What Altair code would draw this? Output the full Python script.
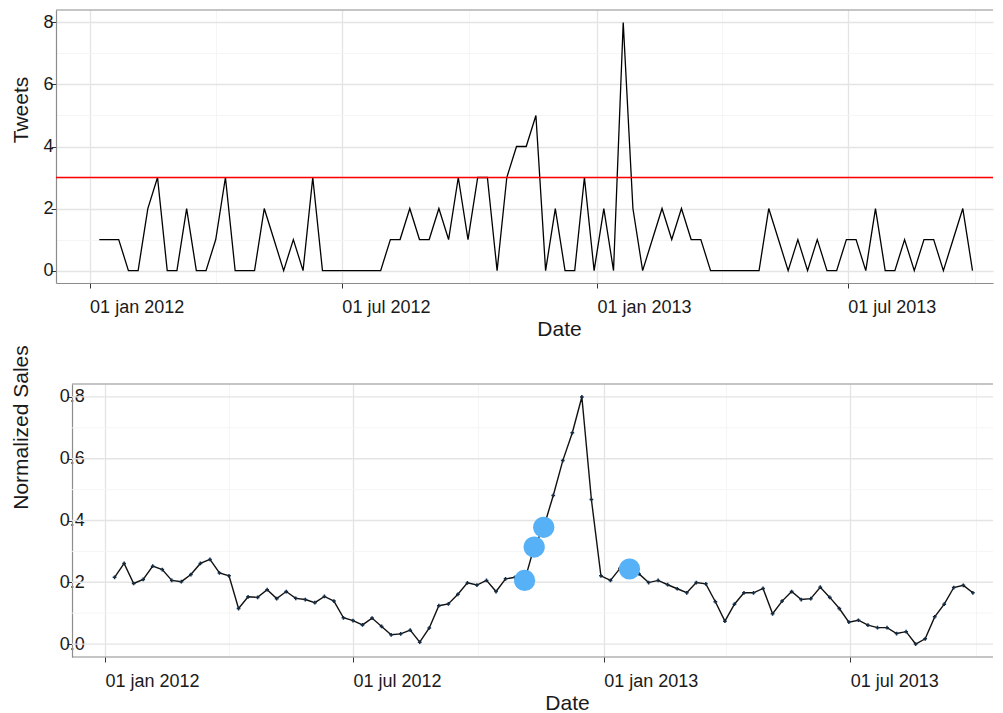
import altair as alt
import pandas as pd

# ---------------- data ----------------
first_week = "2012-01-08"          # weekly observations start here
tweets = [1, 1, 1, 0, 0, 2, 3, 0, 0, 2,
          0, 0, 1, 3, 0, 0, 0, 2, 1, 0,
          1, 0, 3, 0, 0, 0, 0, 0, 0, 0,
          1, 1, 2, 1, 1, 2, 1, 3, 1, 3,
          3, 0, 3, 4, 4, 5, 0, 2, 0, 0,
          3, 0, 2, 0, 8, 2, 0, 1, 2, 1,
          2, 1, 1, 0, 0, 0, 0, 0, 0, 2,
          1, 0, 1, 0, 1, 0, 0, 1, 1, 0,
          2, 0, 0, 1, 0, 1, 1, 0, 1, 2, 0]
sales = [0.216, 0.261, 0.196, 0.209, 0.252, 0.241, 0.206, 0.202, 0.225, 0.261,
         0.274, 0.230, 0.221, 0.115, 0.153, 0.151, 0.176, 0.147, 0.170, 0.148,
         0.144, 0.134, 0.154, 0.139, 0.085, 0.076, 0.062, 0.084, 0.057, 0.030,
         0.033, 0.045, 0.006, 0.052, 0.124, 0.130, 0.161, 0.198, 0.191, 0.206,
         0.170, 0.211, 0.216, 0.206, 0.314, 0.378, 0.481, 0.594, 0.684, 0.800,
         0.468, 0.221, 0.206, 0.245, 0.243, 0.227, 0.199, 0.206, 0.192, 0.179,
         0.166, 0.199, 0.195, 0.137, 0.074, 0.129, 0.166, 0.166, 0.180, 0.098,
         0.139, 0.170, 0.144, 0.147, 0.184, 0.151, 0.115, 0.071, 0.077, 0.061,
         0.053, 0.053, 0.034, 0.040, 0.000, 0.017, 0.088, 0.129, 0.183, 0.190,
         0.166]
threshold = 3
tweet_ticks = [0, 1, 2, 3, 4, 5, 6, 7, 8]
sales_ticks = [0.0, 0.1, 0.2, 0.3, 0.4, 0.5, 0.6, 0.7, 0.8]
date_ticks = [(2012, 1, 1), (2012, 4, 1), (2012, 7, 1), (2012, 10, 1),
              (2013, 1, 1), (2013, 4, 1), (2013, 7, 1), (2013, 10, 1)]

dates = pd.date_range(first_week, periods=len(tweets), freq="7D")
df = pd.DataFrame({"date": dates, "tweets": tweets, "sales": sales})

# ---------------- layout / style ----------------
W = 937
H_TOP, H_BOT = 273, 273
PANEL_START = pd.Timestamp("2011-12-07 18:00")
DOMAIN_END = pd.Timestamp("2013-10-13 19:00")
BOTTOM_START = pd.Timestamp("2011-11-26 00:00")
y_off_bottom = -W * (PANEL_START - BOTTOM_START) / (DOMAIN_END - BOTTOM_START)

FONT = "Liberation Sans"
BORDER = "#8c8c8c"
MAJOR = "#e4e4e4"
MINOR = "#f4f4f4"
TXT = "#1a1a1a"


def dt(ts):
    return alt.DateTime(year=ts.year, month=ts.month, date=ts.day,
                        hours=ts.hour, minutes=ts.minute)


def cond(test, a, b):
    return {"condition": {"test": test, "value": a}, "value": b}


tick_values = [alt.DateTime(year=y, month=m, date=d) for (y, m, d) in date_ticks]
is_major_date = "month(datum.value) % 6 == 0"
date_label = "month(datum.value) % 6 == 0 ? lower(timeFormat(datum.value, '%d %b %Y')) : ''"


def x_axis(title_x, title_y, label_pad, domain):
    return alt.Axis(
        values=tick_values, labelExpr=date_label, labelAlign="left",
        labelBaseline="top", labelPadding=label_pad, labelFontSize=18,
        labelColor=TXT, labelFont=FONT, labelFlush=False, labelOverlap=False,
        tickSize=5, tickColor="#333333", tickWidth=1,
        tickOpacity=cond(is_major_date, 1, 0),
        grid=True, gridColor=cond(is_major_date, MAJOR, MINOR),
        gridWidth=cond(is_major_date, 1.3, 0.9),
        domain=domain, domainColor=BORDER, domainWidth=1.2,
        title="Date", titleX=title_x, titleY=title_y, titleAlign="center",
        titleBaseline="alphabetic", titleFontSize=21, titleFont=FONT,
        titleFontWeight="normal", titleColor=TXT,
    )


# ---------------- top panel : tweets ----------------
xs_top = alt.Scale(domain=[dt(PANEL_START), dt(DOMAIN_END)], nice=False)
ys_top = alt.Scale(domain=[-0.4, 8.4], nice=False, zero=False)
even = "datum.value % 2 == 0"
y_axis_top = alt.Axis(
    values=tweet_ticks, labelExpr=f"{even} ? datum.label : ''",
    labelAlign="right", labelBaseline="middle", labelPadding=-2,
    labelFontSize=18, labelColor=TXT, labelFont=FONT,
    tickSize=5, tickColor="#333333", tickOpacity=cond(even, 1, 0),
    grid=True, gridColor=cond(even, MAJOR, MINOR), gridWidth=cond(even, 1.3, 0.9),
    domainColor=BORDER, domainWidth=1.2,
    title="Tweets", titleAngle=270, titleX=-28.3, titleY=99.5,
    titleAlign="center", titleBaseline="alphabetic", titleFontSize=21,
    titleFont=FONT, titleFontWeight="normal", titleColor=TXT,
)

top_line = alt.Chart(df).mark_line(color="black", strokeWidth=1.3).encode(
    x=alt.X("date:T", scale=xs_top, axis=x_axis(503, 52, 10, True)),
    y=alt.Y("tweets:Q", scale=ys_top, axis=y_axis_top),
)
thr_df = pd.DataFrame({"tweets": [threshold]})
top_thr = alt.Chart(thr_df).mark_rule(color="#ff0000", strokeWidth=1.3).encode(
    y=alt.Y("tweets:Q", scale=ys_top, axis=y_axis_top)
)
top_border = alt.Chart(thr_df).mark_rule(color=BORDER, strokeWidth=1.2).encode(
    y=alt.value(0)
)
top = alt.layer(top_line, top_thr, top_border).properties(width=W, height=H_TOP)

# ---------------- bottom panel : sales ----------------
xs_bot = alt.Scale(domain=[dt(BOTTOM_START), dt(DOMAIN_END)], nice=False)
ys_bot = alt.Scale(domain=[-0.042, 0.842], nice=False, zero=False)
major_s = "round(datum.value * 10) % 2 == 0"
y_axis_bot = alt.Axis(
    values=sales_ticks, labelExpr=f"{major_s} ? format(datum.value, '.1f') : ''",
    labelAlign="right", labelBaseline="middle", labelPadding=-17.3,
    labelFontSize=18, labelColor=TXT, labelFont=FONT,
    tickSize=5, tickColor="#333333", tickOpacity=cond(major_s, 1, 0),
    grid=False, offset=y_off_bottom,
    domainColor=BORDER, domainWidth=1.2,
    title="Normalized Sales", titleAngle=270, titleX=-44.3, titleY=43,
    titleAlign="center", titleBaseline="alphabetic", titleFontSize=21,
    titleFont=FONT, titleFontWeight="normal", titleColor=TXT,
)
x_axis_bot = x_axis(511, 52, 10.5, False)

grid_df = pd.DataFrame({
    "sales": sales_ticks,
    "major": [round(v * 10) % 2 == 0 for v in sales_ticks],
    "date": [PANEL_START] * len(sales_ticks),
    "end": [DOMAIN_END] * len(sales_ticks),
})
frame_df = pd.DataFrame({"sales": [-0.042, 0.842], "date": [PANEL_START] * 2,
                         "end": [DOMAIN_END] * 2})


def hrule(data, color, width):
    return alt.Chart(data).mark_rule(color=color, strokeWidth=width).encode(
        x=alt.X("date:T", scale=xs_bot, axis=x_axis_bot), x2="end:T",
        y=alt.Y("sales:Q", scale=ys_bot, axis=y_axis_bot),
    )


grid_minor = hrule(grid_df, MINOR, 0.9).transform_filter("!datum.major")
grid_major = hrule(grid_df, MAJOR, 1.3).transform_filter("datum.major")
frame = hrule(frame_df, BORDER, 1.2)

bot_enc = dict(x=alt.X("date:T", scale=xs_bot, axis=x_axis_bot),
               y=alt.Y("sales:Q", scale=ys_bot, axis=y_axis_bot))
bot_line = alt.Chart(df).mark_line(color="#111111", strokeWidth=1.4).encode(**bot_enc)
bot_pts = alt.Chart(df).mark_point(shape="cross", filled=True, size=14,
                                   color="#132B43", opacity=1).encode(**bot_enc)
bot_hi = alt.Chart(df).mark_circle(size=450, color="#56B1F7", opacity=1).encode(
    **bot_enc).transform_filter(alt.datum.tweets > threshold)

bottom = alt.layer(grid_minor, grid_major, frame, bot_line, bot_pts, bot_hi).properties(
    width=W, height=H_BOT
)

chart = alt.vconcat(top, bottom, spacing=101, bounds="flush").properties(
    padding={"left": 2, "top": 0, "right": 0, "bottom": 0},
    background="white",
).configure_view(stroke="transparent")

chart.save("out.html", embed_options={"renderer": "svg", "actions": False})
